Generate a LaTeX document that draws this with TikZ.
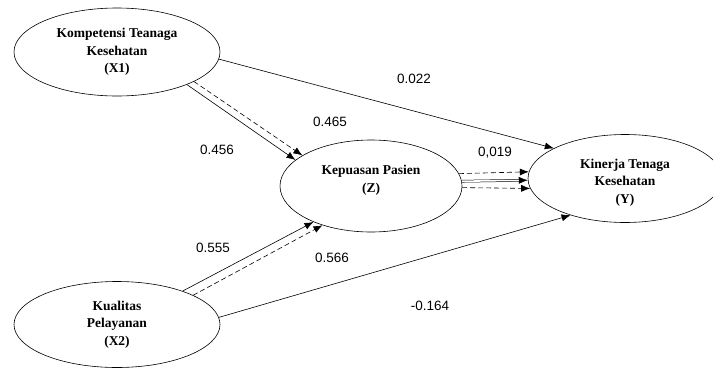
\documentclass[tikz,border=0pt]{standalone}
\usepackage{fontspec}
\setmainfont{Liberation Serif}
\newfontfamily\coeffont{Liberation Sans}
\usetikzlibrary{arrows.meta,shapes.geometric}

\begin{document}
\begin{tikzpicture}[x=1pt,y=-1pt]
\tikzstyle{every node}=[inner sep=0pt]
\tikzstyle{construct}=[ellipse, draw, line width=0.6pt, align=center,
  font=\fontsize{13.5}{17.5}\selectfont\bfseries]
\tikzstyle{path}=[line width=0.6pt, -{Latex[length=9pt,width=7pt]}]
\tikzstyle{indirect}=[path, dash pattern=on 5pt off 3pt]
\tikzstyle{coef}=[font=\coeffont\fontsize{13.5}{15}\selectfont]
\clip (0,0) rectangle (713,370);
\node (x1) [construct, minimum width=206pt, minimum height=88pt] at (117,52) {Kompetensi Teanaga\\Kesehatan\\(X1)};
\node (z) [construct, minimum width=182pt, minimum height=92pt, text depth=14pt] at (371,186) {Kepuasan Pasien\\(Z)};
\node (y) [construct, minimum width=194pt, minimum height=88pt, text height=52pt] at (625,178.5) {Kinerja Tenaga\\Kesehatan\\(Y)};
\node (x2) [construct, minimum width=206pt, minimum height=86pt] at (117,324.5) {Kualitas\\Pelayanan\\(X2)};
% direct paths
\draw[path] (x1.-4) -- (y.157);
\draw[path] (x1.-25) -- (z.161);
\draw[path] (x2.27) -- (z.212);
\draw[path] (x2.4) -- (y.214);
\draw[path, double, double distance=1.6pt, line width=0.5pt] (z.3.2) -- (y.181.5);
% indirect paths
\draw[indirect] (x1.-21) -- (z.156);
\draw[indirect] (x2.21) -- (z.219);
\draw[indirect] (z.8.5) -- (y.176.7);
\draw[indirect] (z.-1.9) -- (y.186.4);
% coefficients
\node (c1) [coef] at (414,79) {0.022};
\node (c2) [coef] at (330,122) {0.465};
\node (c3) [coef] at (217,150) {0.456};
\node (c4) [coef] at (495,153) {0,019};
\node (c5) [coef] at (213,248) {0.555};
\node (c6) [coef] at (332,258) {0.566};
\node (c7) [coef] at (430,306) {-0.164};
\end{tikzpicture}
\end{document}
